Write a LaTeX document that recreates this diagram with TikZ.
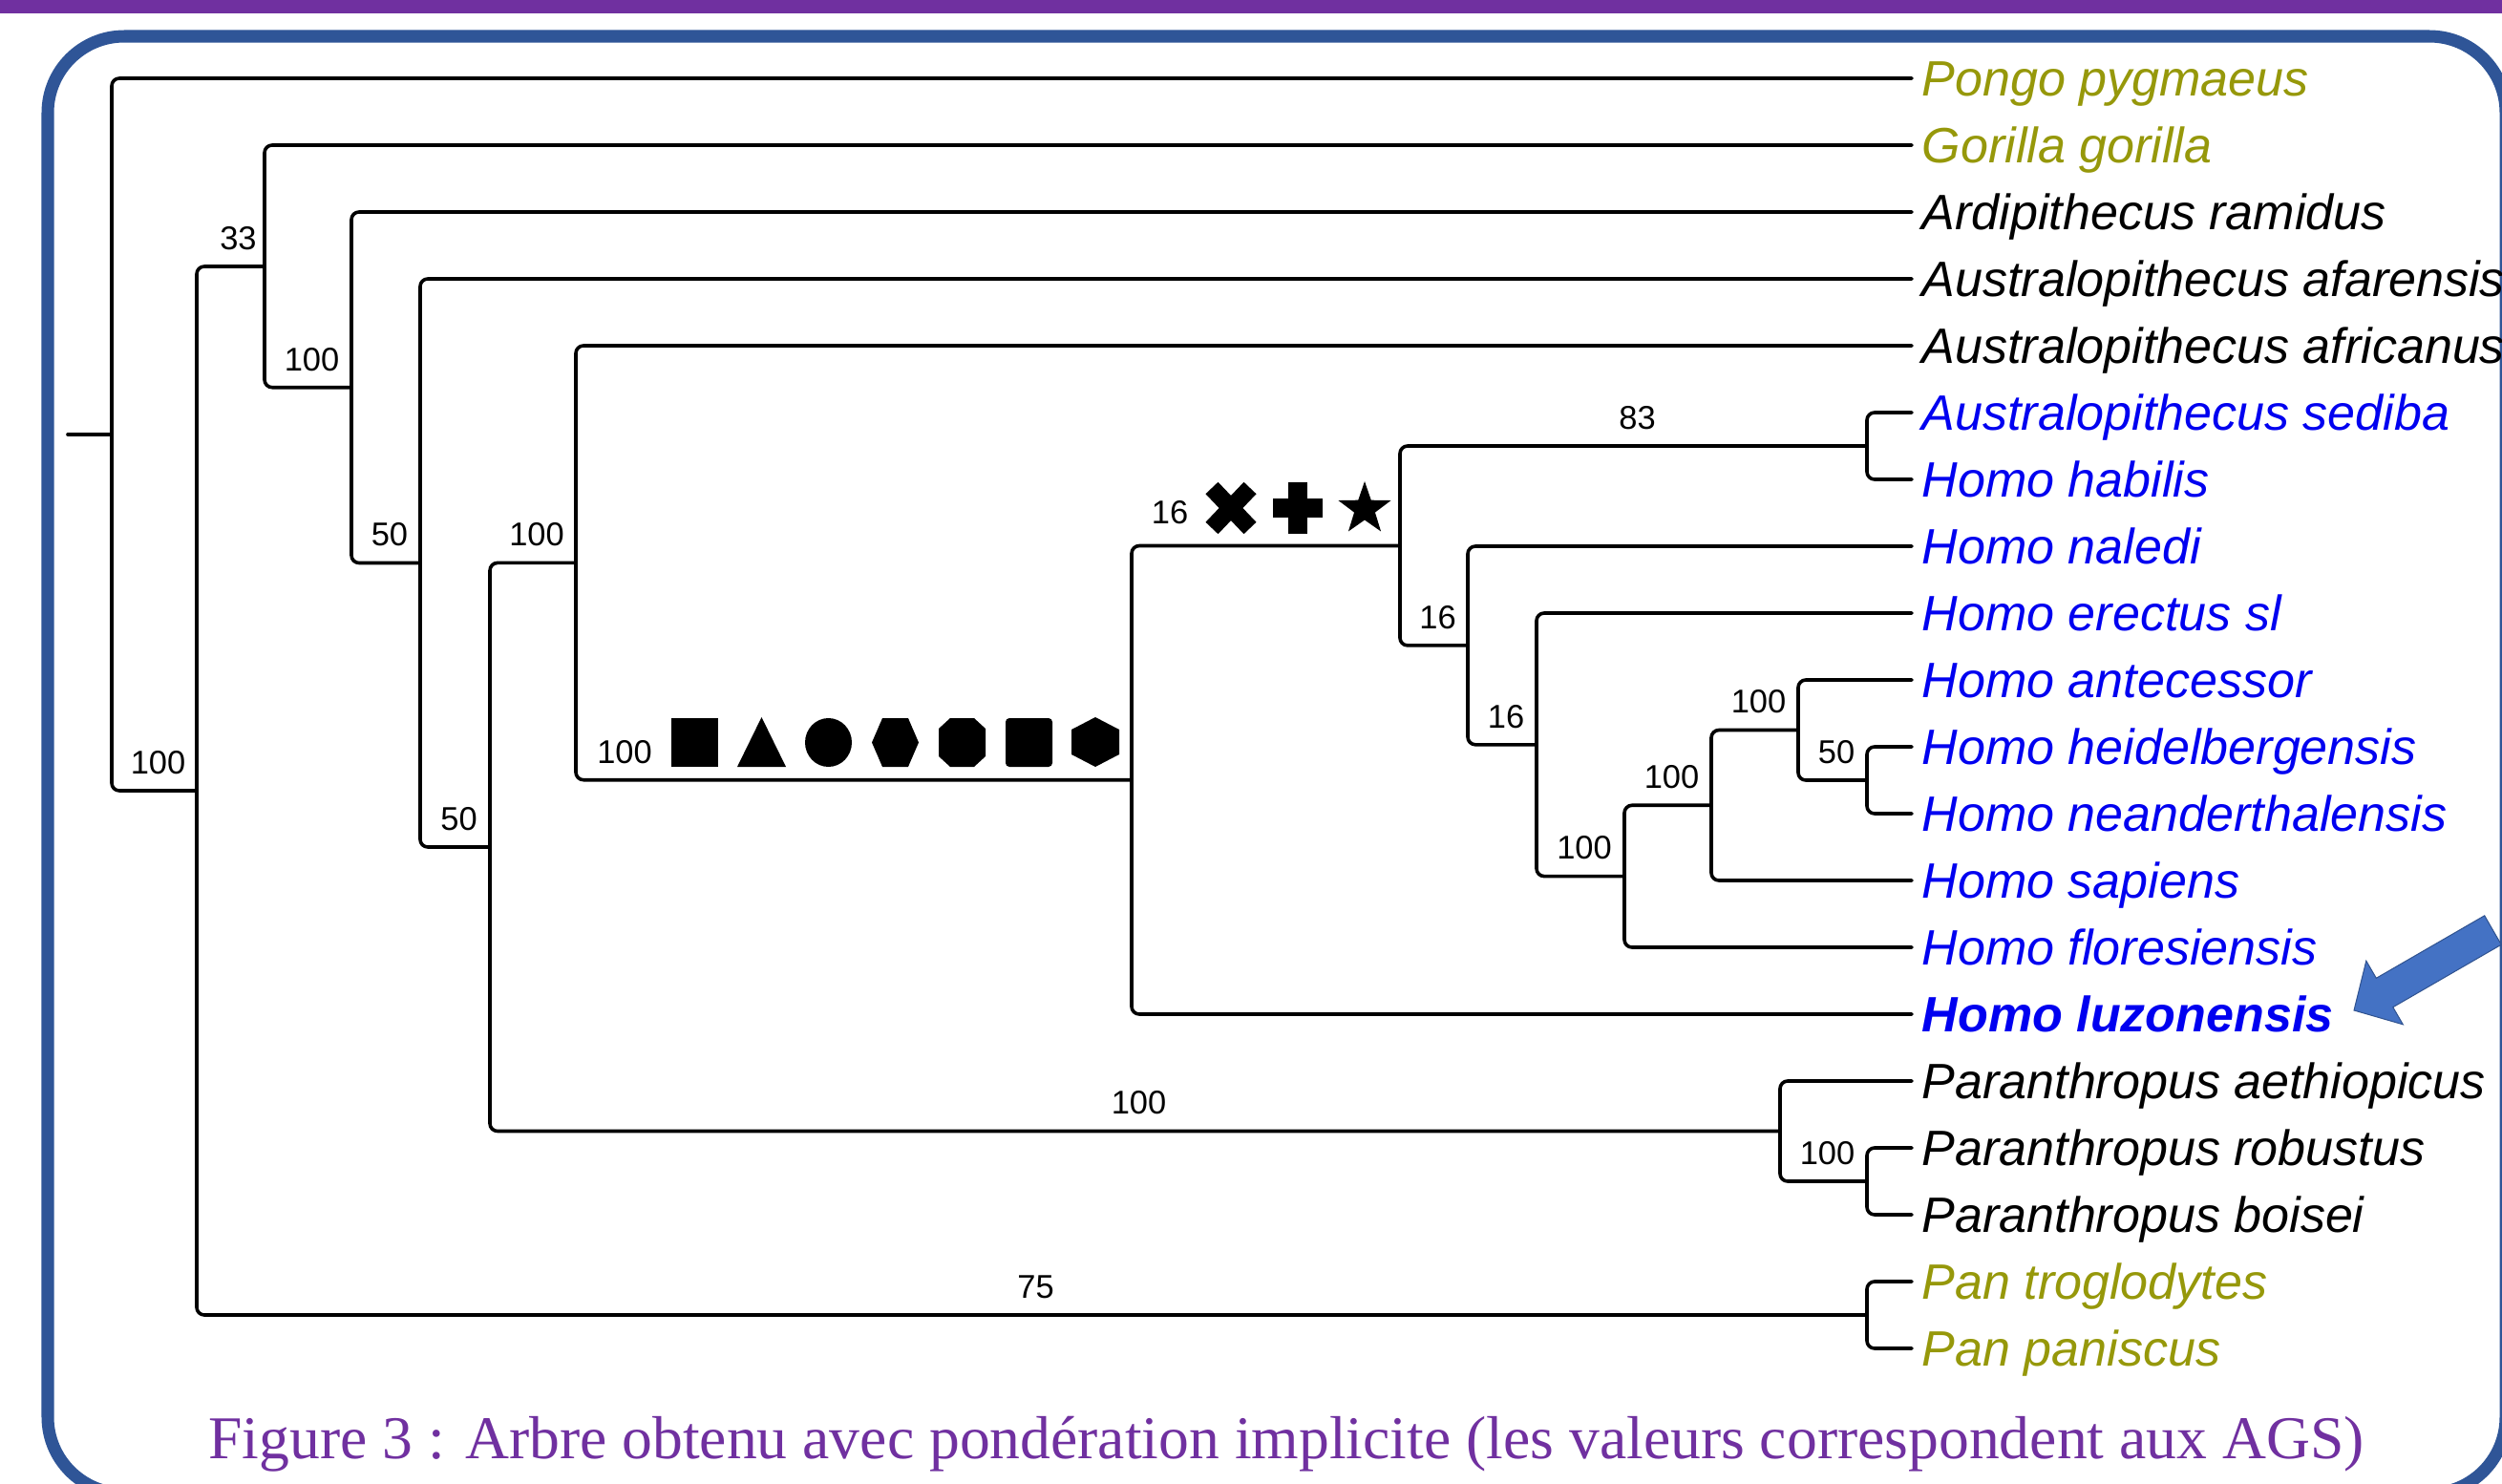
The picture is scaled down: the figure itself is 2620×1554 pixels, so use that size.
\documentclass[tikz,border=0pt]{standalone}
\usepackage{fontspec}
\setmainfont{Liberation Sans}
\newfontfamily\capfont{Liberation Serif}
\usetikzlibrary{calc}
\definecolor{bandpurple}{RGB}{112,48,160}
\definecolor{frameblue}{RGB}{47,85,151}
\definecolor{arrowfill}{RGB}{68,114,196}
\definecolor{arrowline}{RGB}{47,82,143}
\definecolor{olivetxt}{RGB}{150,152,10}
\definecolor{bluetxt}{RGB}{0,0,240}
\begin{document}
\begin{tikzpicture}[x=0.01cm,y=-0.01cm,
  branch/.style={line width=0.036cm, rounded corners=0.08cm, line cap=round},
  leaf/.style={anchor=west, inner xsep=0.1cm, inner ysep=0pt, text height=0.372cm, text depth=0pt,
    font=\fontsize{14.8pt}{17pt}\selectfont\itshape},
  num/.style={anchor=base, inner sep=0pt, font=\fontsize{9.8pt}{11pt}\selectfont}]
\useasboundingbox (0,0) rectangle (2620,1554);
\clip (0,0) rectangle (2620,1554);
\fill[white] (0,0) rectangle (2620,1554);
% top band and frame
\fill[bandpurple] (0,0) rectangle (2620,14);
\draw[frameblue, line width=0.13cm, rounded corners=0.8cm] (50,38) rectangle (2624,1564);

% leaves
\node[leaf, text=olivetxt] (pongo) at (2002,82) {Pongo pygmaeus};
\node[leaf, text=olivetxt] (gorilla) at (2002,152) {Gorilla gorilla};
\node[leaf] (ardi) at (2002,222) {Ardipithecus ramidus};
\node[leaf] (afar) at (2002,292) {Australopithecus afarensis};
\node[leaf] (afric) at (2002,362) {Australopithecus africanus};
\node[leaf, text=bluetxt] (sediba) at (2002,432) {Australopithecus sediba};
\node[leaf, text=bluetxt] (habilis) at (2002,502) {Homo habilis};
\node[leaf, text=bluetxt] (naledi) at (2002,572) {Homo naledi};
\node[leaf, text=bluetxt] (erectus) at (2002,642) {Homo erectus sl};
\node[leaf, text=bluetxt] (antec) at (2002,712) {Homo antecessor};
\node[leaf, text=bluetxt] (heidel) at (2002,782) {Homo heidelbergensis};
\node[leaf, text=bluetxt] (neand) at (2002,852) {Homo neanderthalensis};
\node[leaf, text=bluetxt] (sapiens) at (2002,922) {Homo sapiens};
\node[leaf, text=bluetxt] (flores) at (2002,992) {Homo floresiensis};
\node[leaf, text=bluetxt, font=\fontsize{14.8pt}{17pt}\selectfont\bfseries\itshape] (luzon) at (2002,1062) {Homo luzonensis};
\node[leaf] (aethio) at (2002,1132) {Paranthropus aethiopicus};
\node[leaf] (robust) at (2002,1202) {Paranthropus robustus};
\node[leaf] (boisei) at (2002,1272) {Paranthropus boisei};
\node[leaf, text=olivetxt] (trog) at (2002,1342) {Pan troglodytes};
\node[leaf, text=olivetxt] (panis) at (2002,1412) {Pan paniscus};

% internal nodes
\coordinate (stem) at (71,455);
\coordinate (R) at (117,455);
\coordinate (A) at (206,828);
\coordinate (B) at (277,279);
\coordinate (C) at (368,405.7);
\coordinate (D) at (440,589.5);
\coordinate (E) at (513,887);
\coordinate (F) at (603,589.4);
\coordinate (G) at (1185,816.7);
\coordinate (H) at (1466,571.5);
\coordinate (I) at (1955,467);
\coordinate (J) at (1537,675.9);
\coordinate (K) at (1609,779.8);
\coordinate (L) at (1701,917.6);
\coordinate (M) at (1792,843.25);
\coordinate (N) at (1883,764.5);
\coordinate (O) at (1955,817);
\coordinate (P) at (1864,1184.5);
\coordinate (Q) at (1955,1237);
\coordinate (Pan) at (1955,1377);

% connectors
\draw[branch] (stem) -- (R);
\draw[branch] (R) |- (pongo.west);
\draw[branch] (R) |- (A);
\draw[branch] (A) |- (B);
\draw[branch] (A) |- (Pan);
\draw[branch] (B) |- (gorilla.west);
\draw[branch] (B) |- (C);
\draw[branch] (C) |- (ardi.west);
\draw[branch] (C) |- (D);
\draw[branch] (D) |- (afar.west);
\draw[branch] (D) |- (E);
\draw[branch] (E) |- (F);
\draw[branch] (E) |- (P);
\draw[branch] (F) |- (afric.west);
\draw[branch] (F) |- (G);
\draw[branch] (G) |- (H);
\draw[branch] (G) |- (luzon.west);
\draw[branch] (H) |- (I);
\draw[branch] (H) |- (J);
\draw[branch] (I) |- (sediba.west);
\draw[branch] (I) |- (habilis.west);
\draw[branch] (J) |- (naledi.west);
\draw[branch] (J) |- (K);
\draw[branch] (K) |- (erectus.west);
\draw[branch] (K) |- (L);
\draw[branch] (L) |- (M);
\draw[branch] (L) |- (flores.west);
\draw[branch] (M) |- (N);
\draw[branch] (M) |- (sapiens.west);
\draw[branch] (N) |- (antec.west);
\draw[branch] (N) |- (O);
\draw[branch] (O) |- (heidel.west);
\draw[branch] (O) |- (neand.west);
\draw[branch] (P) |- (aethio.west);
\draw[branch] (P) |- (Q);
\draw[branch] (Q) |- (robust.west);
\draw[branch] (Q) |- (boisei.west);
\draw[branch] (Pan) |- (trog.west);
\draw[branch] (Pan) |- (panis.west);

% support values
\node[num] (lB) at (249.5,261) {33};
\node[num] (lC) at (326.5,388) {100};
\node[num] (lD) at (408,571.5) {50};
\node[num] (lF) at (562,571.4) {100};
\node[num] (lA) at (165.5,810) {100};
\node[num] (lE) at (480.5,869) {50};
\node[num] (lP) at (1192.5,1166.5) {100};
\node[num] (lPan) at (1084.5,1359) {75};
\node[num] (lI) at (1714.5,449) {83};
\node[num] (lJ) at (1505.5,658) {16};
\node[num] (lK) at (1577,762) {16};
\node[num] (lL) at (1659,899.6) {100};
\node[num] (lM) at (1750.5,825) {100};
\node[num] (lN) at (1841.5,746.5) {100};
\node[num] (lO) at (1923,799) {50};
\node[num] (lQ) at (1913.5,1219) {100};
\node[num] (lG) at (654,799) {100};
\node[num] (lH) at (1225,548) {16};

% symbols on branch G
\fill (703,752) rectangle (752,803);
\fill (797.5,751) -- (823,803) -- (772,803) -- cycle;
\fill (867.5,777.5) ellipse [x radius=24.5, y radius=25.5];
\fill (924,752) -- (951,752) -- (962,777.5) -- (951,803) -- (924,803) -- (913,777.5) -- cycle;
\fill (995,752) -- (1020,752) -- (1032,763) -- (1032,792) -- (1020,803) -- (995,803) -- (983,792) -- (983,763) -- cycle;
\fill[rounded corners=0.04cm] (1053,752) rectangle (1102,803);
\fill (1147,751) -- (1172,764) -- (1172,790) -- (1147,803) -- (1122,790) -- (1122,764) -- cycle;

% symbols on branch H
\draw[line width=0.18cm] (1269,511) -- (1309,553) (1269,553) -- (1309,511);
\fill (1349,505) rectangle (1369,559);
\fill (1333,522) rectangle (1385,542);
\fill[shift={(1429,533)}] (-90:29) -- (-54:11.5) -- (-18:29) -- (18:11.5) -- (54:29) -- (90:11.5)
  -- (126:29) -- (162:11.5) -- (198:29) -- (234:11.5) -- cycle;

% blue arrow
\filldraw[fill=arrowfill, draw=arrowline, line width=0.01cm, line join=miter]
  (2465,1058) -- (2477.8,1006.2) -- (2488.3,1024.3) -- (2601.7,958.8) -- (2619.2,989.2)
  -- (2505.8,1054.7) -- (2516.3,1072.8) -- cycle;

% caption
\node[anchor=base, inner sep=0pt, text=bandpurple, font=\capfont\fontsize{18.1pt}{21pt}\selectfont] (cap) at (1347,1527)
  {Figure 3 : Arbre obtenu avec pondération implicite (les valeurs correspondent aux AGS)};
\end{tikzpicture}
\end{document}
